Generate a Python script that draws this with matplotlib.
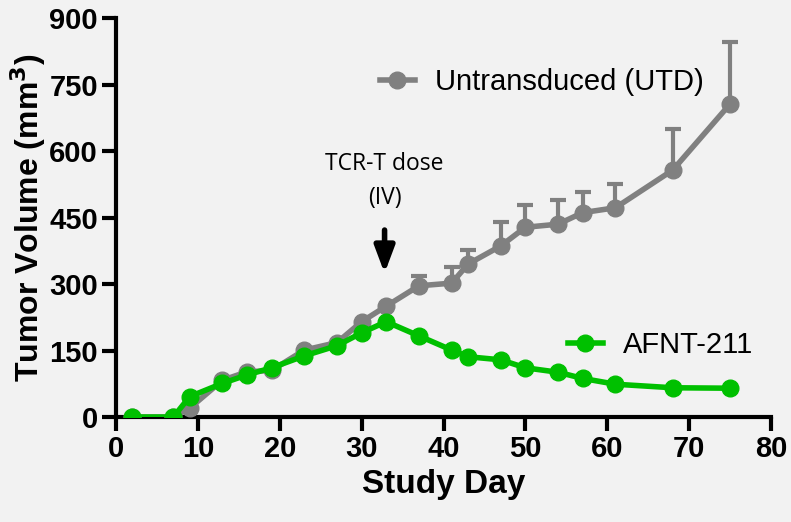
import matplotlib.pyplot as plt
from matplotlib.lines import Line2D

# study days
days = [2, 7, 9, 13, 16, 19, 23, 27, 30, 33, 37, 41, 43, 47, 50, 54, 57, 61, 68, 75]
utd = [0, 0, 20, 83, 102, 105, 151, 168, 215, 250, 296, 302, 345, 386, 428, 435, 461, 472, 557, 706]
utd_err = [0, 0, 0, 0, 0, 0, 0, 0, 0, 0, 22, 36, 32, 55, 50, 55, 47, 54, 93, 141]
afnt = [0, 0, 46, 76, 95, 111, 138, 161, 190, 215, 183, 151, 136, 129, 111, 101, 87, 74, 66, 65]

gray = "#808080"
green = "#00c000"

plt.rcParams["font.family"] = ["Liberation Sans", "DejaVu Sans"]
fig = plt.figure(figsize=(7.91, 5.22), dpi=100, facecolor="#f2f2f2")
ax = fig.add_axes([0.1467, 0.2011, 0.828, 0.7644])
ax.set_facecolor("#f2f2f2")

ax.errorbar(days, utd, yerr=[[0] * len(utd_err), utd_err], fmt="none",
            ecolor=gray, elinewidth=3, capsize=6, capthick=3, zorder=2)
ax.plot(days, utd, color=gray, lw=4, marker="o", ms=12, zorder=3)
ax.plot(days, afnt, color=green, lw=4, marker="o", ms=12, zorder=4)

ax.set_xlim(0, 80)
ax.set_ylim(0, 900)
ax.set_xticks(range(0, 81, 10))
ax.set_yticks(range(0, 901, 150))
for s in ["top", "right"]:
    ax.spines[s].set_visible(False)
for s in ["left", "bottom"]:
    ax.spines[s].set_linewidth(3)
ax.tick_params(width=3, length=10, labelsize=21, pad=3)
for lab in ax.get_xticklabels() + ax.get_yticklabels():
    lab.set_fontweight("bold")

ax.set_xlabel("Study Day", fontsize=24, fontweight="bold", labelpad=4)
ax.set_ylabel("Tumor Volume (mm$^\\mathbf{3}$)", fontsize=23, fontweight="bold", labelpad=1)

# legends
h1 = Line2D([], [], color=gray, lw=4, marker="o", ms=12)
h2 = Line2D([], [], color=green, lw=4, marker="o", ms=12)
leg1 = ax.legend([h1], ["Untransduced (UTD)"], loc="center left", bbox_to_anchor=(0.403, 0.84),
                 frameon=False, fontsize=21, handlelength=1.2, handletextpad=0.7,
                 borderaxespad=0, borderpad=0)
ax.add_artist(leg1)
ax.legend([h2], ["AFNT-211"], loc="center left", bbox_to_anchor=(0.69, 0.18),
          frameon=False, fontsize=21, handlelength=1.2, handletextpad=0.7,
          borderaxespad=0, borderpad=0)

# dose annotation
ax.text(32.8, 570, "TCR-T dose", ha="center", va="center", fontsize=16.5,
        family=["Open Sans", "DejaVu Sans"])
ax.text(32.8, 494, "(IV)", ha="center", va="center", fontsize=16.5,
        family=["Open Sans", "DejaVu Sans"])
ax.annotate("", xy=(32.8, 318), xytext=(32.8, 428),
            arrowprops=dict(arrowstyle="-|>,head_width=0.6,head_length=1.6", color="black", lw=4))

plt.savefig("out.png", dpi=100, facecolor=fig.get_facecolor())
